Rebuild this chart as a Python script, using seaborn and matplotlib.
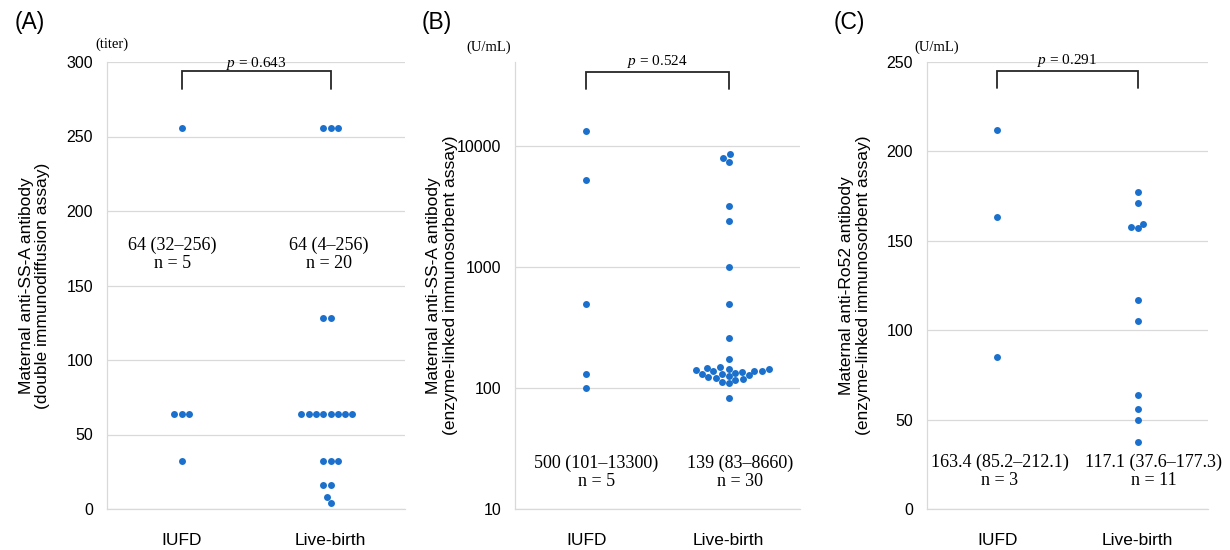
import pandas as pd
import seaborn as sns
import matplotlib
matplotlib.use("Agg")
import matplotlib.pyplot as plt

# ---- data ----
groups = ["IUFD", "Live-birth"]

ssa_dd_iufd = [256, 64, 64, 64, 32]
ssa_dd_live = [256, 256, 256, 128, 128, 64, 64, 64, 64, 64, 64, 64, 64,
               32, 32, 32, 16, 16, 8, 4]

ssa_elisa_iufd = [13300, 5300, 500, 130, 101]
ssa_elisa_live = [8660, 8100, 7400, 3200, 2400, 1000, 500, 260, 175,
                  150, 147, 145, 143, 141, 139, 139, 138, 136, 134,
                  132, 130, 128, 126, 124, 122, 119, 116, 113, 110, 83]

ro52_iufd = [212.1, 163.4, 85.2]
ro52_live = [177.3, 171.0, 159.5, 157.5, 157.0, 117.1, 105.0, 64.0, 56.0, 50.0, 37.6]

summary_a = ["64 (32\u2013256)\nn = 5", "64 (4\u2013256)\nn = 20"]
summary_b = ["500 (101\u201313300)\nn = 5", "139 (83\u20138660)\nn = 30"]
summary_c = ["163.4 (85.2\u2013212.1)\nn = 3", "117.1 (37.6\u2013177.3)\nn = 11"]

p_values = ["0.643", "0.524", "0.291"]
panel_tags = ["(A)", "(B)", "(C)"]
units = ["(titer)", "(U/mL)", "(U/mL)"]
ylabels = ["Maternal anti-SS-A antibody\n(double immunodiffusion assay)",
           "Maternal anti-SS-A antibody\n(enzyme-linked immunosorbent assay)",
           "Maternal anti-Ro52 antibody\n(enzyme-linked immunosorbent assay)"]

# ---- style ----
sns.set_style("white")
plt.rcParams["font.family"] = ["Liberation Sans", "DejaVu Sans"]
plt.rcParams["mathtext.fontset"] = "custom"
plt.rcParams["mathtext.it"] = "Liberation Serif:italic"
plt.rcParams["mathtext.rm"] = "Liberation Serif"
for key in ["text.color", "axes.labelcolor", "xtick.color", "ytick.color"]:
    plt.rcParams[key] = "black"

DOT = "#1a70cc"
GRID = "#d9d9d9"
SERIF = ["Liberation Serif", "DejaVu Serif"]


def long_frame(a, b):
    return pd.DataFrame({"group": [groups[0]] * len(a) + [groups[1]] * len(b),
                         "value": list(a) + list(b)})


fig = plt.figure(figsize=(12.3, 5.5), dpi=100)
bottom, height = 1 - 509 / 550, (509 - 62) / 550
axes = [fig.add_axes([107 / 1230, bottom, 298 / 1230, height]),
        fig.add_axes([515 / 1230, bottom, 285 / 1230, height]),
        fig.add_axes([927 / 1230, bottom, 281 / 1230, height])]

frames = [long_frame(ssa_dd_iufd, ssa_dd_live),
          long_frame(ssa_elisa_iufd, ssa_elisa_live),
          long_frame(ro52_iufd, ro52_live)]
summaries = [summary_a, summary_b, summary_c]

# per panel: ylim, ticks, summary text y, summary x, bracket (bottom, top), p y, unit pos, label x
cfg = [
    dict(ylim=(0, 300), ticks=range(0, 301, 50), text_y=171, text_x=(-0.06, 0.99),
         br=(282, 294), p_y=299, unit=(0.015, 1.04), lab_x=-0.19),
    dict(ylim=(10, 50000), ticks=[10, 100, 1000, 10000], text_y=20.2, text_x=(0.07, 1.08),
         br=(30000, 41000), p_y=50500, unit=(-0.094, 1.034), lab_x=-0.20),
    dict(ylim=(0, 250), ticks=range(0, 251, 50), text_y=21, text_x=(0.02, 1.115),
         br=(235.6, 244.8), p_y=251, unit=(0.034, 1.034), lab_x=-0.20),
]

for i, ax in enumerate(axes):
    c = cfg[i]
    if i == 1:
        ax.set_yscale("log")
    ax.set_ylim(*c["ylim"])
    ax.set_xlim(-0.5, 1.5)
    sns.swarmplot(data=frames[i], x="group", y="value", order=groups, ax=ax,
                  color=DOT, size=5, linewidth=0, zorder=3)
    ax.set_ylim(*c["ylim"])
    ax.set_xlim(-0.5, 1.5)
    ax.set_yticks(list(c["ticks"]))
    if i == 1:
        ax.set_yticklabels([str(t) for t in c["ticks"]])
        ax.minorticks_off()
    ax.yaxis.grid(True, color=GRID, lw=0.9)
    ax.xaxis.grid(False)
    ax.set_axisbelow(True)
    for s in ["top", "right"]:
        ax.spines[s].set_visible(False)
    for s in ["left", "bottom"]:
        ax.spines[s].set_color(GRID)
        ax.spines[s].set_linewidth(0.9)
    ax.tick_params(axis="y", length=0, pad=10, labelsize=11.5)
    ax.tick_params(axis="x", length=0, pad=17, labelsize=12.5)
    ax.set_xlabel("")
    ax.set_ylabel(ylabels[i], fontsize=12.5, linespacing=1.15)
    ax.yaxis.set_label_coords(c["lab_x"], 0.5)

    # medians / n
    for k, txt in enumerate(summaries[i]):
        ax.text(c["text_x"][k], c["text_y"], txt, ha="center", va="center",
                fontsize=13, family=SERIF, linespacing=1.05)

    # significance bracket
    b0, b1 = c["br"]
    ax.plot([0, 0, 1, 1], [b0, b1, b1, b0], color="#262626", lw=1.3,
            clip_on=False, zorder=4, solid_joinstyle="miter")
    ax.text(0.5, c["p_y"], "$p$ = " + p_values[i], ha="center", va="center",
            fontsize=11, family=SERIF, clip_on=False)

    # unit label
    ax.text(c["unit"][0], c["unit"][1], units[i], transform=ax.transAxes,
            ha="center", va="center", fontsize=10.5, family=SERIF)

for x, tag in zip([30, 437, 849], panel_tags):
    fig.text(x / 1230, 1 - 23 / 550, tag, ha="center", va="center", fontsize=16.5)

fig.savefig("out.png", dpi=100)
